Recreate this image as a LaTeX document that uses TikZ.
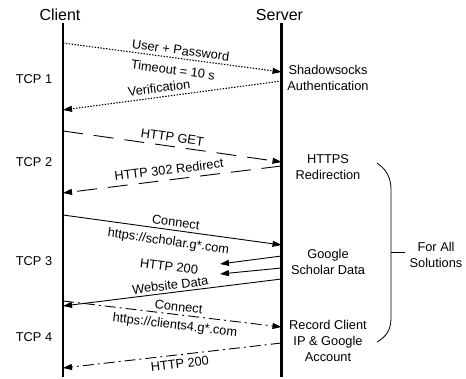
\documentclass[tikz,border=0pt]{standalone}
\usepackage{fontspec}
\setmainfont{Liberation Sans}
\usetikzlibrary{arrows.meta}
\begin{document}
\begin{tikzpicture}[x=1pt,y=-1pt]
\tikzset{
  lab/.style={font=\fontsize{12.8}{16}\selectfont, inner sep=1pt},
  side/.style={lab, align=center},
  head/.style={font=\fontsize{16}{18}\selectfont, inner sep=0pt},
  msg/.style={line width=0.9pt, -{Triangle[length=9pt,width=6pt]}},
  dotmsg/.style={msg, line width=1.1pt, dash pattern=on 1.4pt off 1.5pt},
  dashmsg/.style={msg, dash pattern=on 20pt off 11pt},
  dotdashmsg/.style={msg, dash pattern=on 11pt off 4pt on 2pt off 4pt},
  plainmsg/.style={msg},
  life/.style={line width=2.2pt},
  bracket/.style={line width=0.8pt},
}
\useasboundingbox (0,0) rectangle (466,379);
% headers and lifelines
\node[head] (client) at (60,15) {Client};
\node[head] (server) at (279.5,15) {Server};
\coordinate (ctop) at (63,23);
\coordinate (cbot) at (63,377);
\coordinate (stop) at (281.5,23);
\coordinate (sbot) at (281.5,377);
\draw[life] (ctop) -- (cbot);
\draw[life] (stop) -- (sbot);
% TCP labels
\node[lab] (tcp1) at (34,79) {TCP 1};
\node[lab] (tcp2) at (34,162) {TCP 2};
\node[lab] (tcp3) at (34,261) {TCP 3};
\node[lab] (tcp4) at (34,337) {TCP 4};
% server side labels
\node[side] (shadow) at (328,78) {Shadowsocks\\Authentication};
\node[side] (https) at (328,167.5) {HTTPS\\Redirection};
\node[side] (gsd) at (328,262) {Google\\Scholar Data};
\node[side] (rec) at (328,341) {Record Client\\IP \& Google\\Account};
\node[side] (all) at (436,255) {For All\\Solutions};
% message endpoints
\coordinate (c1) at (63,43);   \coordinate (s1) at (281.5,72);
\coordinate (s2) at (281.5,81); \coordinate (c2) at (63,110);
\coordinate (c3) at (63,131);  \coordinate (s3) at (281.5,162);
\coordinate (s4) at (281.5,166); \coordinate (c4) at (63,193);
\coordinate (c5) at (63,215);  \coordinate (s5) at (281.5,245);
\coordinate (s6) at (281.5,256); \coordinate (e6) at (220,264);
\coordinate (s7) at (281.5,268); \coordinate (e7) at (220,274);
\coordinate (s8) at (281.5,279); \coordinate (c8) at (63,306);
\coordinate (c9) at (63,301);  \coordinate (s9) at (281.5,327);
\coordinate (s10) at (281.5,343); \coordinate (c10) at (63,368);
% messages
\draw[dotmsg] (c1) -- node[lab, sloped, above=2pt, pos=0.534] {User + Password}
  node[lab, sloped, below=6pt, pos=0.511] {Timeout = 10 s} (s1);
\draw[dotmsg] (s2) -- node[lab, sloped, above=3pt, pos=0.555] {Verification} (c2);
\draw[dashmsg] (c3) -- node[lab, sloped, above=3pt, pos=0.495] {HTTP GET} (s3);
\draw[dashmsg] (s4) -- node[lab, sloped, above=4pt, pos=0.509] {HTTP 302 Redirect} (c4);
\draw[plainmsg] (c5) -- node[lab, sloped, above=2.5pt, pos=0.511] {Connect}
  node[lab, sloped, below=5pt, pos=0.49] {https://scholar.g*.com} (s5);
\draw[plainmsg] (s6) -- (e6);
\draw[plainmsg] (s7) -- (e7);
\node[lab, rotate=-7.3] (h200) at (169,266.5) {HTTP 200};
\draw[plainmsg] (s8) -- node[lab, sloped, above=1.5pt, pos=0.505] {Website Data} (c8);
\draw[dotdashmsg] (c9) -- node[lab, sloped, above=2pt, pos=0.525] {Connect}
  node[lab, sloped, below=4pt, pos=0.518] {https://clients4.g*.com} (s9);
\draw[dotdashmsg] (s10) -- node[lab, sloped, below=3pt, pos=0.47] {HTTP 200} (c10);
% bracket
\coordinate (b1) at (377,163);
\coordinate (b2) at (377,342);
\coordinate (bm) at (391,252);
\coordinate (bt) at (405,252);
\draw[bracket] (b1) .. controls (387,170) and (391,178) .. (391,190)
  -- (391,318) .. controls (391,330) and (386,337) .. (b2);
\draw[bracket] (bm) -- (bt);
\end{tikzpicture}
\end{document}
